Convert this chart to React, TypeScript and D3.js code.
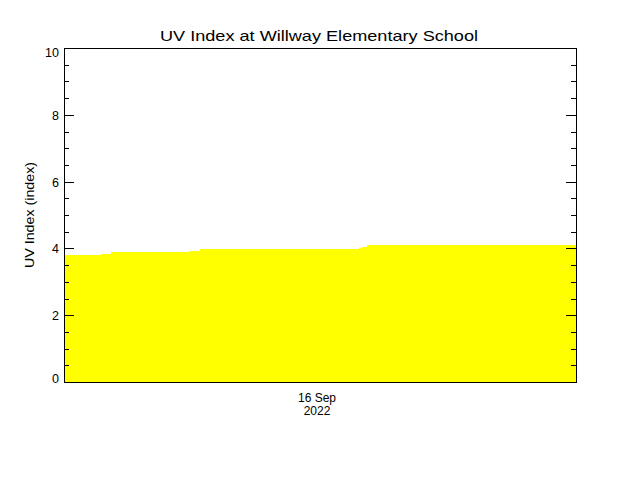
import { useEffect, useRef } from 'react';
import * as d3 from 'd3';

// readings on 16 Sep 2022 (local time) and UV index
const times = ["00:00", "01:44", "02:12", "05:52", "06:22", "13:50", "13:58", "14:12"];
const uvValues = [3.80, 3.84, 3.89, 3.93, 3.98, 4.02, 4.05, 4.10];
const yMajorTicks = [0, 2, 4, 6, 8, 10];
const yMinorTicks = d3.range(0, 10.01, 0.5).filter(v => v % 2 !== 0);
const xLabelLines = ["16 Sep", "2022"];

const App = () => {
    const svgRef = useRef<SVGSVGElement | null>(null);

    useEffect(() => {
        if (!svgRef.current) return;
        const svg = d3.select(svgRef.current);
        svg.selectAll("*").remove();

        const width = 640;
        const height = 480;
        const margin = { top: 48, right: 64, bottom: 98, left: 64 };
        const font = "'Liberation Sans', Arial, sans-serif";

        const day0 = new Date(2022, 8, 16, 0, 0);
        const day1 = new Date(2022, 8, 17, 0, 0);
        const parse = (t: string) => {
            const [h, m] = t.split(":").map(Number);
            return new Date(2022, 8, 16, h, m);
        };
        const data = times.map((t, i) => ({ date: parse(t), value: uvValues[i] }));
        data.push({ date: day1, value: uvValues[uvValues.length - 1] });

        const x = d3.scaleTime()
            .domain([day0, day1])
            .range([margin.left, width - margin.right]);

        const y = d3.scaleLinear()
            .domain([0, 10])
            .range([height - margin.bottom, margin.top]);

        svg.append("rect")
            .attr("width", width)
            .attr("height", height)
            .attr("fill", "white");

        // the filled area
        const area = d3.area<{ date: Date; value: number }>()
            .x(d => x(d.date))
            .y0(y(0) + 0.5)
            .y1(d => y(d.value))
            .curve(d3.curveStepAfter);

        svg.append("path")
            .datum(data)
            .attr("d", area)
            .attr("fill", "#ffff00")
            .attr("shape-rendering", "crispEdges");

        // frame
        svg.append("rect")
            .attr("x", x.range()[0] + 0.5)
            .attr("y", y(10) + 0.5)
            .attr("width", x.range()[1] - x.range()[0])
            .attr("height", y(0) - y(10))
            .attr("fill", "none")
            .attr("stroke", "black")
            .attr("shape-rendering", "crispEdges");

        // ticks pointing inward on both sides
        const addTicks = (axis: d3.Axis<d3.NumberValue>, xpos: number) => {
            const g = svg.append("g")
                .attr("transform", `translate(${xpos},0)`)
                .call(axis);
            g.select(".domain").remove();
            g.selectAll("line").attr("stroke", "black").attr("shape-rendering", "crispEdges");
            g.selectAll("text").remove();
        };
        addTicks(d3.axisRight(y).tickValues(yMajorTicks).tickSize(10), x.range()[0]);
        addTicks(d3.axisRight(y).tickValues(yMinorTicks).tickSize(5), x.range()[0]);
        addTicks(d3.axisLeft(y).tickValues(yMajorTicks).tickSize(10), x.range()[1]);
        addTicks(d3.axisLeft(y).tickValues(yMinorTicks).tickSize(5), x.range()[1]);

        // y tick labels
        svg.append("g")
            .selectAll("text")
            .data(yMajorTicks)
            .join("text")
            .attr("x", x.range()[0] - 5)
            .attr("y", d => Math.min(Math.max(y(d) + 5, 57), 383))
            .attr("text-anchor", "end")
            .attr("font-family", font)
            .attr("font-size", 12.5)
            .text(d => d);

        // x label (centre of the day)
        const mid = new Date(2022, 8, 16, 12, 0);
        svg.append("g")
            .selectAll("text")
            .data(xLabelLines)
            .join("text")
            .attr("x", x(mid) - 3)
            .attr("y", (d, i) => 402 + i * 13)
            .attr("text-anchor", "middle")
            .attr("font-family", font)
            .attr("font-size", 12)
            .text(d => d);

        // title
        svg.append("text")
            .attr("x", 319)
            .attr("y", 41)
            .attr("text-anchor", "middle")
            .attr("font-family", font)
            .attr("font-size", 15)
            .attr("textLength", 318)
            .attr("lengthAdjust", "spacingAndGlyphs")
            .text("UV Index at Willway Elementary School");

        // y axis title
        svg.append("text")
            .attr("transform", `translate(34,${(y(0) + y(10)) / 2}) rotate(-90)`)
            .attr("text-anchor", "middle")
            .attr("font-family", font)
            .attr("font-size", 13)
            .attr("textLength", 106)
            .attr("lengthAdjust", "spacingAndGlyphs")
            .text("UV Index (index)");
    }, []);

    return (
        <svg
            ref={svgRef}
            width="640"
            height="480"
            style={{ position: "absolute", left: 0, top: 0 }}
        ></svg>
    );
};

export default App;
